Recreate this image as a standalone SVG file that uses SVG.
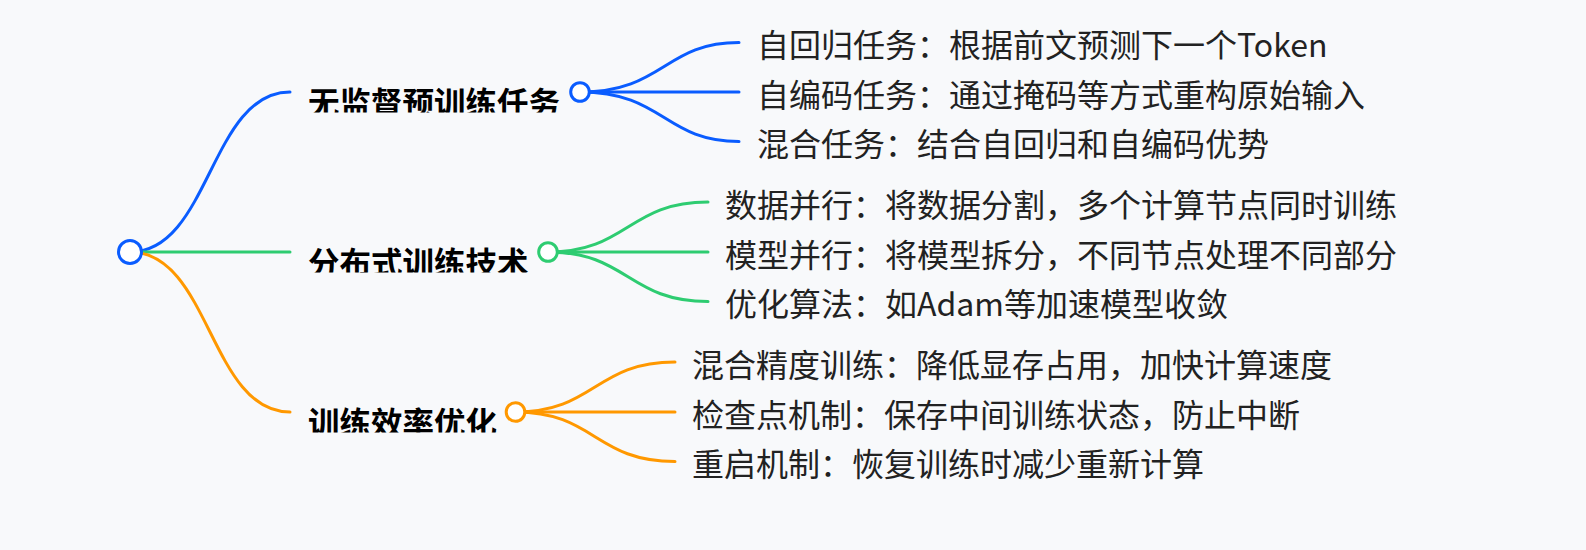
<svg xmlns="http://www.w3.org/2000/svg" width="1586" height="550" viewBox="0 0 1586 550">
<defs>
<style>
.bg{fill:#f8f9fb}
.lnb{fill:none;stroke:#0a5cff;stroke-width:3;stroke-linecap:round}
.lng{fill:none;stroke:#2ecc71;stroke-width:3;stroke-linecap:round}
.lno{fill:none;stroke:#ff9800;stroke-width:3;stroke-linecap:round}
.main{font-family:"Noto Sans CJK SC","Noto Sans",sans-serif;font-size:31.5px;font-weight:bold;fill:#000}
.leaf{font-family:"Noto Sans CJK SC","Noto Sans",sans-serif;font-size:32px;fill:#222}
.dot{fill:#ffffff;stroke-width:3}
</style>
<clipPath id="c1"><rect x="300" y="75" width="270" height="37.5"/></clipPath>
<clipPath id="c2"><rect x="300" y="235" width="240" height="37.5"/></clipPath>
<clipPath id="c3"><rect x="300" y="395" width="210" height="37.5"/></clipPath>
</defs>
<rect class="bg" x="0" y="0" width="1586" height="550"/>
<g id="connectors">
<path class="lnb" d="M130 252 C210 252 210 92 290 92"/>
<path class="lng" d="M130 252 L290 252"/>
<path class="lno" d="M130 252 C210 252 210 412 290 412"/>
<path class="lnb" d="M580 92 C664 92 664 42.5 739 42.5"/>
<path class="lnb" d="M580 92 L739 92"/>
<path class="lnb" d="M580 92 C664 92 664 141.5 739 141.5"/>
<path class="lng" d="M548 252 C628 252 628 202 708 202"/>
<path class="lng" d="M548 252 L708 252"/>
<path class="lng" d="M548 252 C628 252 628 301.5 708 301.5"/>
<path class="lno" d="M515.5 412 C595 412 595 362 675 362"/>
<path class="lno" d="M515.5 412 L675 412"/>
<path class="lno" d="M515.5 412 C595 412 595 461.5 675 461.5"/>
</g>
<g id="root">
<circle class="dot" cx="130" cy="252" r="11.5" stroke="#0a5cff"/>
</g>
<g id="n1">
<text class="main" x="308" y="114.5" clip-path="url(#c1)">无监督预训练任务</text>
<circle class="dot" cx="580" cy="92" r="9.3" stroke="#0a5cff"/>
</g>
<g id="n2">
<text class="main" x="308" y="274.5" clip-path="url(#c2)">分布式训练技术</text>
<circle class="dot" cx="548" cy="252" r="9.3" stroke="#2ecc71"/>
</g>
<g id="n3">
<text class="main" x="308" y="434.5" clip-path="url(#c3)">训练效率优化</text>
<circle class="dot" cx="515.5" cy="412" r="9.3" stroke="#ff9800"/>
</g>
<g id="n1a"><text class="leaf" x="757" y="57">自回归任务：根据前文预测下一个Token</text></g>
<g id="n1b"><text class="leaf" x="757" y="106.5">自编码任务：通过掩码等方式重构原始输入</text></g>
<g id="n1c"><text class="leaf" x="757" y="156">混合任务：结合自回归和自编码优势</text></g>
<g id="n2a"><text class="leaf" x="725" y="216.5">数据并行：将数据分割，多个计算节点同时训练</text></g>
<g id="n2b"><text class="leaf" x="725" y="266.5">模型并行：将模型拆分，不同节点处理不同部分</text></g>
<g id="n2c"><text class="leaf" x="725" y="316">优化算法：如Adam等加速模型收敛</text></g>
<g id="n3a"><text class="leaf" x="692" y="376.5">混合精度训练：降低显存占用，加快计算速度</text></g>
<g id="n3b"><text class="leaf" x="692" y="426.5">检查点机制：保存中间训练状态，防止中断</text></g>
<g id="n3c"><text class="leaf" x="692" y="476">重启机制：恢复训练时减少重新计算</text></g>
</svg>
